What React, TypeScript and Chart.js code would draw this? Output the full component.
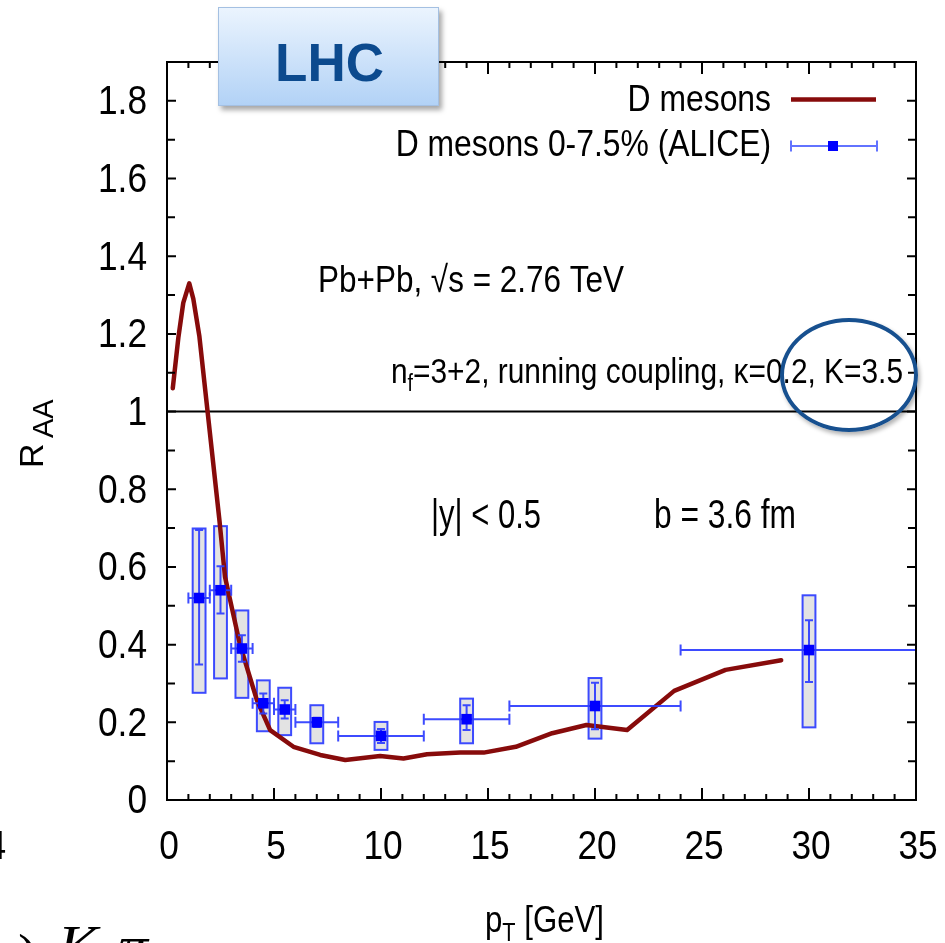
import React, { useEffect, useRef } from 'react';
import { Chart, registerables } from 'chart.js';

Chart.register(...registerables);

// ---- Theory curve: D mesons (Pb+Pb, 2.76 TeV)
const curveX = [0.27, 0.53, 0.76, 1.04, 1.23, 1.51, 2.45, 2.71, 3.41, 4.2, 4.82, 5.91, 7.16, 8.33, 9.96, 11.05, 12.15, 13.7, 14.8, 16.3, 18.0, 19.6, 21.5, 23.7, 26.1, 28.7];
const curveY = [1.06, 1.19, 1.28, 1.33, 1.29, 1.195, 0.72, 0.575, 0.40, 0.257, 0.18, 0.137, 0.116, 0.103, 0.113, 0.107, 0.118, 0.122, 0.122, 0.137, 0.172, 0.193, 0.18, 0.281, 0.335, 0.36];

// ---- ALICE D mesons 0-7.5%
const aliceX = [1.5, 2.5, 3.5, 4.5, 5.5, 7, 10, 14, 20, 30];
const aliceY = [0.52, 0.54, 0.39, 0.249, 0.233, 0.2, 0.165, 0.208, 0.242, 0.386];
const aliceXLow = [1, 2, 3, 4, 5, 6, 8, 12, 16, 24];
const aliceXHigh = [2, 3, 4, 5, 6, 8, 12, 16, 24, 36];
const statLow = [0.349, 0.48, 0.356, 0.223, 0.21, 0.188, 0.147, 0.18, 0.182, 0.304];
const statHigh = [0.695, 0.602, 0.424, 0.274, 0.257, 0.212, 0.183, 0.244, 0.302, 0.463];
const sysLow = [0.276, 0.313, 0.263, 0.177, 0.167, 0.146, 0.129, 0.146, 0.158, 0.187];
const sysHigh = [0.699, 0.705, 0.488, 0.308, 0.289, 0.244, 0.201, 0.261, 0.314, 0.527];
const sysHalfWidth = 0.3;

// ---- Axes
const xMin = 0, xMax = 35, xStep = 1, xLabelEvery = 5;
const yMin = 0, yMax = 1.9, yStep = 0.1, yLabelEvery = 0.2;
const refLineY = 1;

const SANS = '"Liberation Sans", Arial, Helvetica, sans-serif';
const SERIF = '"Liberation Serif", "Times New Roman", serif';
const BLUE = 'rgba(45,60,255,0.92)';
const RED = '#870b0b';

function txt(ctx: CanvasRenderingContext2D, text: string, x: number, y: number, size: number, o: any = {}) {
  ctx.save();
  ctx.font = `${o.weight || 'normal'} ${size}px ${o.family || SANS}`;
  const w = ctx.measureText(text).width;
  const sx = o.width ? o.width / w : (o.sx ?? 0.87);
  ctx.translate(x, y);
  ctx.scale(sx, 1);
  ctx.textAlign = o.align || 'left';
  ctx.textBaseline = o.baseline || 'alphabetic';
  ctx.fillStyle = o.color || '#000';
  ctx.fillText(text, 0, 0);
  ctx.restore();
  return w * sx;
}

function isMult(v: number, step: number) {
  const r = v / step;
  return Math.abs(r - Math.round(r)) < 1e-6;
}

const decor = {
  id: 'decor',
  beforeDatasetsDraw(chart: any) {
    const { ctx, chartArea: a } = chart;
    const xs = chart.scales.x, ys = chart.scales.y;
    ctx.save();
    ctx.beginPath();
    ctx.rect(a.left, a.top, a.right - a.left, a.bottom - a.top);
    ctx.clip();
    // reference line at R_AA = 1
    ctx.strokeStyle = '#000';
    ctx.lineWidth = 2;
    ctx.beginPath();
    const yr = ys.getPixelForValue(refLineY);
    ctx.moveTo(a.left, yr);
    ctx.lineTo(a.right, yr);
    ctx.stroke();
    // systematic boxes
    for (let i = 0; i < aliceX.length; i++) {
      const x0 = xs.getPixelForValue(aliceX[i] - sysHalfWidth);
      const x1 = xs.getPixelForValue(aliceX[i] + sysHalfWidth);
      const y0 = ys.getPixelForValue(sysHigh[i]);
      const y1 = ys.getPixelForValue(sysLow[i]);
      ctx.fillStyle = '#e3e3e3';
      ctx.fillRect(x0, y0, x1 - x0, y1 - y0);
      ctx.strokeStyle = BLUE;
      ctx.lineWidth = 2;
      ctx.strokeRect(x0, y0, x1 - x0, y1 - y0);
    }
    ctx.restore();
  },
  beforeDatasetDraw(chart: any, args: any) {
    if (args.index !== 0) return;
    const { ctx, chartArea: a } = chart;
    const xs = chart.scales.x, ys = chart.scales.y;
    ctx.save();
    ctx.beginPath();
    ctx.rect(a.left, a.top, a.right - a.left, a.bottom - a.top);
    ctx.clip();
    ctx.strokeStyle = BLUE;
    ctx.lineWidth = 2;
    for (let i = 0; i < aliceX.length; i++) {
      const px = xs.getPixelForValue(aliceX[i]);
      const py = ys.getPixelForValue(aliceY[i]);
      const xl = xs.getPixelForValue(aliceXLow[i]);
      const xh = xs.getPixelForValue(aliceXHigh[i]);
      const yl = ys.getPixelForValue(statLow[i]);
      const yh = ys.getPixelForValue(statHigh[i]);
      ctx.beginPath();
      ctx.moveTo(xl, py); ctx.lineTo(xh, py);
      ctx.moveTo(xl, py - 5.5); ctx.lineTo(xl, py + 5.5);
      ctx.moveTo(xh, py - 5.5); ctx.lineTo(xh, py + 5.5);
      ctx.moveTo(px, yl); ctx.lineTo(px, yh);
      ctx.moveTo(px - 4, yl); ctx.lineTo(px + 4, yl);
      ctx.moveTo(px - 4, yh); ctx.lineTo(px + 4, yh);
      ctx.stroke();
    }
    ctx.restore();
  },
  afterDraw(chart: any) {
    const { ctx, chartArea: a } = chart;
    const xs = chart.scales.x, ys = chart.scales.y;
    ctx.save();
    // ticks (inward, mirrored)
    ctx.strokeStyle = '#000';
    ctx.lineWidth = 2;
    ctx.beginPath();
    ys.ticks.forEach((t: any) => {
      const p = ys.getPixelForValue(t.value);
      const len = isMult(t.value, yLabelEvery) ? 9 : 8;
      ctx.moveTo(a.left, p); ctx.lineTo(a.left + len, p);
      ctx.moveTo(a.right, p); ctx.lineTo(a.right - len, p);
    });
    xs.ticks.forEach((t: any) => {
      const p = xs.getPixelForValue(t.value);
      const len = isMult(t.value, xLabelEvery) ? 12 : 6;
      ctx.moveTo(p, a.bottom); ctx.lineTo(p, a.bottom - len);
      ctx.moveTo(p, a.top); ctx.lineTo(p, a.top + len);
    });
    ctx.stroke();
    // frame
    ctx.lineWidth = 2;
    ctx.strokeRect(a.left, a.top, a.right - a.left, a.bottom - a.top);

    // tick labels
    ys.ticks.forEach((t: any) => {
      if (!isMult(t.value, yLabelEvery)) return;
      const p = ys.getPixelForValue(t.value);
      const lab = String(Math.round(t.value * 10) / 10);
      txt(ctx, lab, a.left - 20, p + 2, 41, { align: 'right', baseline: 'middle', sx: 0.86 });
    });
    xs.ticks.forEach((t: any) => {
      if (!isMult(t.value, xLabelEvery)) return;
      const p = xs.getPixelForValue(t.value);
      txt(ctx, String(Math.round(t.value)), p + 2, 848, 41, { align: 'center', baseline: 'middle', sx: 0.86 });
    });

    // axis titles
    {
      ctx.save();
      ctx.translate(43, 468);
      ctx.rotate(-Math.PI / 2);
      ctx.fillStyle = '#000';
      ctx.font = `34px ${SANS}`;
      ctx.textBaseline = 'alphabetic';
      ctx.fillText('R', 0, 0);
      ctx.font = `29px ${SANS}`;
      ctx.fillText('AA', 30, 10);
      ctx.restore();
    }
    {
      ctx.save();
      const f1 = `36px ${SANS}`, f2 = `25px ${SANS}`;
      ctx.font = f1; const wp = ctx.measureText('p').width; const wr = ctx.measureText(' [GeV]').width;
      ctx.font = f2; const wt = ctx.measureText('T').width;
      const sx = 119 / (wp + wt + wr);
      ctx.translate(485, 932);
      ctx.scale(sx, 1);
      ctx.fillStyle = '#000';
      ctx.font = f1; ctx.fillText('p', 0, 0);
      ctx.font = f2; ctx.fillText('T', wp, 9);
      ctx.font = f1; ctx.fillText(' [GeV]', wp + wt, 0);
      ctx.restore();
    }

    // annotations
    txt(ctx, 'Pb+Pb, \u221As = 2.76 TeV', 318, 292, 37, { width: 306 });
    {
      ctx.save();
      const f1 = `35px ${SANS}`, f2 = `23px ${SANS}`;
      const rest = '=3+2, running coupling, \u03BA=0.2, K=3.5';
      ctx.font = f1; const wn = ctx.measureText('n').width; const wr = ctx.measureText(rest).width;
      ctx.font = f2; const wf = ctx.measureText('f').width;
      const sx = 512 / (wn + wf + wr);
      ctx.translate(391, 383);
      ctx.scale(sx, 1);
      ctx.fillStyle = '#000';
      ctx.font = f1; ctx.fillText('n', 0, 0);
      ctx.font = f2; ctx.fillText('f', wn, 8);
      ctx.font = f1; ctx.fillText(rest, wn + wf, 0);
      ctx.restore();
    }
    txt(ctx, '|y| < 0.5', 431, 528, 41, { width: 110 });
    txt(ctx, 'b = 3.6 fm', 654, 528, 41, { width: 142 });

    // legend
    txt(ctx, 'D mesons', 771, 101, 36, { align: 'right', baseline: 'middle', sx: 0.885 });
    txt(ctx, 'D mesons 0-7.5% (ALICE)', 771, 146, 36, { align: 'right', baseline: 'middle', sx: 0.885 });
    ctx.strokeStyle = RED;
    ctx.lineWidth = 4.5;
    ctx.beginPath();
    ctx.moveTo(791, 99.5); ctx.lineTo(876, 99.5);
    ctx.stroke();
    ctx.strokeStyle = 'rgba(70,90,255,0.85)';
    ctx.lineWidth = 2;
    ctx.beginPath();
    ctx.moveTo(791, 146); ctx.lineTo(877, 146);
    ctx.moveTo(791, 140.5); ctx.lineTo(791, 151.5);
    ctx.moveTo(877, 140.5); ctx.lineTo(877, 151.5);
    ctx.stroke();
    ctx.fillStyle = '#0000ff';
    ctx.fillRect(828, 141, 10, 10);

    // cropped fragments from the source slide
    txt(ctx, '4', 6, 848, 41, { align: 'right', baseline: 'middle', sx: 0.86 });
    ctx.fillStyle = '#000';
    ctx.font = `60px ${SERIF}`;
    ctx.fillText(')', 18, 975);
    ctx.font = `italic 60px ${SERIF}`;
    ctx.fillText('K', 58, 966);
    ctx.fillText('\u03C0', 118, 966);
    ctx.restore();
  },
};

export default function App() {
  const ref = useRef<HTMLCanvasElement | null>(null);
  useEffect(() => {
    document.body.style.margin = '0';
    const canvas = ref.current!;
    const chart = new Chart(canvas, {
      type: 'scatter',
      data: {
        datasets: [
          {
            label: 'D mesons 0-7.5% (ALICE)',
            data: aliceX.map((x, i) => ({ x, y: aliceY[i] })),
            pointStyle: 'rect',
            pointRadius: 7.5,
            backgroundColor: '#0000ff',
            borderWidth: 0,
            showLine: false,
          },
          {
            label: 'D mesons',
            data: curveX.map((x, i) => ({ x, y: curveY[i] })),
            showLine: true,
            pointRadius: 0,
            borderColor: RED,
            borderWidth: 4.5,
            tension: 0,
            borderJoinStyle: 'round',
            borderCapStyle: 'round',
          },
        ],
      },
      options: {
        responsive: false,
        animation: false,
        events: [],
        layout: { padding: { top: 62, right: 29, left: 0, bottom: 0 } },
        plugins: { legend: { display: false }, tooltip: { enabled: false } },
        scales: {
          x: {
            type: 'linear', min: xMin, max: xMax,
            ticks: { display: false, stepSize: xStep, autoSkip: false, maxTicksLimit: 100 },
            grid: { display: false }, border: { display: false },
            afterFit: (s: any) => { s.height = 143; },
          },
          y: {
            type: 'linear', min: yMin, max: yMax,
            ticks: { display: false, stepSize: yStep, autoSkip: false, maxTicksLimit: 100 },
            grid: { display: false }, border: { display: false },
            afterFit: (s: any) => { s.width = 167; },
          },
        },
      } as any,
      plugins: [decor],
    });
    return () => chart.destroy();
  }, []);

  return (
    <div style={{ position: 'relative', width: 945, height: 943, overflow: 'hidden', background: '#fff' }}>
      <canvas ref={ref} width={945} height={943} style={{ position: 'absolute', left: 0, top: 0, width: 945, height: 943 }} />
      <div
        style={{
          position: 'absolute', left: 218, top: 7, width: 221, height: 99, boxSizing: 'border-box',
          background: 'linear-gradient(#ebf4fe, #b2d2f6)', border: '1px solid #a4c0e2',
          boxShadow: '3px 4px 5px rgba(0,0,0,0.35)',
        }}
      >
        <span
          style={{
            position: 'absolute', left: 0, width: 221, top: 28, textAlign: 'center',
            fontFamily: SANS, fontWeight: 'bold', fontSize: 53, lineHeight: 1, color: '#0c4a8e',
          }}
        >
          LHC
        </span>
      </div>
      <div
        style={{
          position: 'absolute', left: 780, top: 318, width: 138, height: 114, boxSizing: 'border-box',
          border: '4px solid #17508f', borderRadius: '50%', boxShadow: '2px 3px 4px rgba(0,0,0,0.3)',
        }}
      />
    </div>
  );
}
